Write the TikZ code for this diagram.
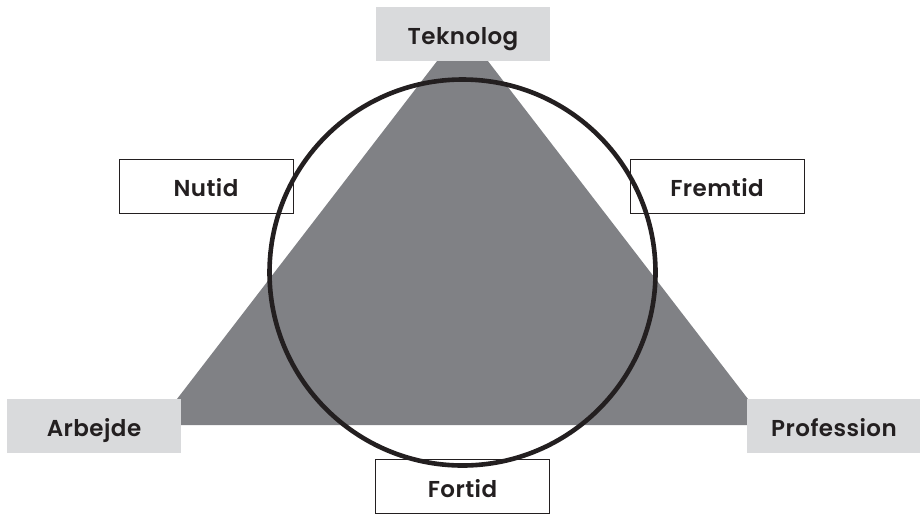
\documentclass[tikz,border=0pt]{standalone}
\usepackage{fontspec}
\newfontfamily\labelfont{Poppins}[UprightFont=* SemiBold, LetterSpace=2]
\usetikzlibrary{positioning}
\definecolor{trigrey}{RGB}{128,129,133}
\definecolor{boxgrey}{RGB}{217,218,220}
\definecolor{ink}{RGB}{35,31,32}
\tikzset{corner/.style={fill=boxgrey, text=ink, minimum width=174pt, minimum height=54pt, inner sep=0pt, text height=21pt, text depth=0pt, align=center}}
\tikzset{period/.style={draw=ink, fill=white, line width=0.8pt, text=ink, minimum width=174pt, minimum height=54pt, inner sep=0pt, text height=21pt, text depth=0pt, align=center}}
\tikzset{ring/.style={draw=ink, line width=4.6pt}}

\begin{document}
\begin{tikzpicture}[x=1pt, y=-1pt, font=\labelfont\fontsize{23}{27}\selectfont]
\useasboundingbox (0,0) rectangle (920,515);
\coordinate (apex) at (462.5,28);
\coordinate (left) at (157,425);
\coordinate (right) at (768,425);
\fill[trigrey] (apex) -- (left) -- (right) -- cycle;

\node[corner] (teknolog) at (463,34) {Teknolog};
\node[corner] (arbejde) at (94,426) {Arbejde};
\node[corner] (profession) at (834,426) {Profession};
\node[period] (nutid) at (206,186) {Nutid};
\node[period] (fremtid) at (717,186) {Fremtid};
\node[period] (fortid) at (462.5,486.5) {Fortid};

\coordinate (centre) at (462.5,272.5);
\draw[ring] (centre) circle[radius=193];
\end{tikzpicture}
\end{document}
